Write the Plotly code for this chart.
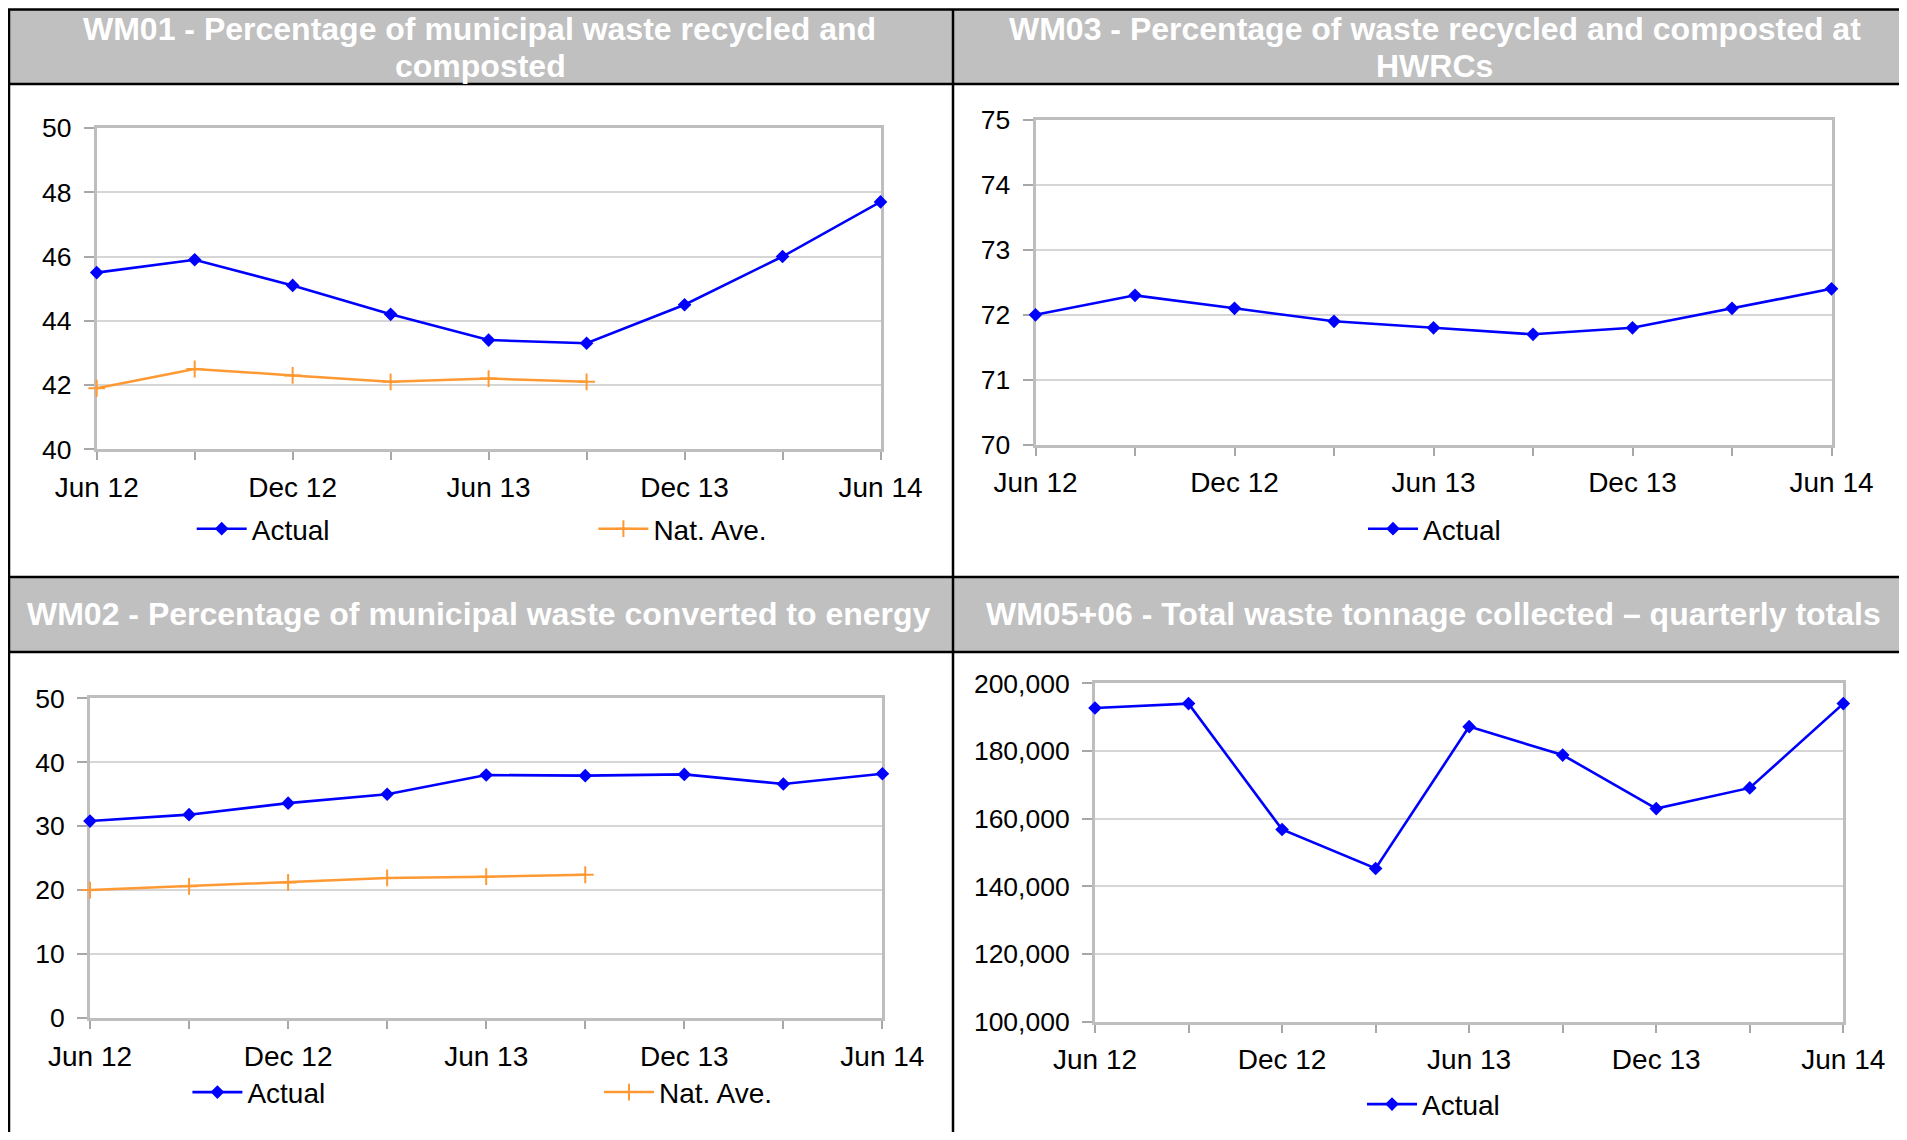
import plotly.graph_objects as go

# target page size; the page body adds an 8px margin, so the figure is shifted by OFF
PW, PH = 1907, 1140
OFF = 8
FW, FH = PW - OFF, PH - 2 * OFF
FONT = "Liberation Sans, Arial, sans-serif"

# ---------------- data ----------------
quarters = ["Jun 12", "Sep 12", "Dec 12", "Mar 13", "Jun 13", "Sep 13", "Dec 13", "Mar 14", "Jun 14"]
tick_labels = ["Jun 12", "", "Dec 12", "", "Jun 13", "", "Dec 13", "", "Jun 14"]

wm01_actual = [45.5, 45.9, 45.1, 44.2, 43.4, 43.3, 44.5, 46.0, 47.7]
wm01_nat_ave = [41.9, 42.5, 42.3, 42.1, 42.2, 42.1]

wm03_actual = [72.0, 72.3, 72.1, 71.9, 71.8, 71.7, 71.8, 72.1, 72.4]

wm02_actual = [30.8, 31.8, 33.6, 35.0, 38.0, 37.9, 38.1, 36.6, 38.2]
wm02_nat_ave = [20.0, 20.6, 21.2, 21.9, 22.1, 22.4]

wm0506_actual = [192700, 194000, 156800, 145300, 187200, 178800, 163000, 169100, 194000]

titles = {
    "wm01": ["WM01 - Percentage of municipal waste recycled and", "composted"],
    "wm03": ["WM03 - Percentage of waste recycled and composted at", "HWRCs"],
    "wm02": ["WM02 - Percentage of municipal waste converted to energy"],
    "wm0506": ["WM05+06 - Total waste tonnage collected \u2013 quarterly totals"],
}

BLUE = "#0000FF"
ORANGE = "#FF9933"


def px_x(x):
    return (x - OFF) / FW


def px_y(y):
    return 1 - (y - OFF) / FH


def xdom(l, r):
    return [px_x(l), px_x(r)]


def ydom(t, b):
    return [px_y(b), px_y(t)]


fig = go.Figure()


def actual_trace(y, ax, legend):
    return go.Scatter(
        x=quarters[: len(y)], y=y, name="Actual", mode="lines+markers",
        line=dict(color=BLUE, width=2.6),
        marker=dict(symbol="diamond", size=10.5, color=BLUE),
        xaxis="x" + ax, yaxis="y" + ax, legend=legend, cliponaxis=False,
    )


def nat_trace(y, ax, legend):
    return go.Scatter(
        x=quarters[: len(y)], y=y, name="Nat. Ave.", mode="lines+markers",
        line=dict(color=ORANGE, width=2.5),
        marker=dict(symbol="cross-thin", size=12, color=ORANGE, line=dict(color=ORANGE, width=2)),
        xaxis="x" + ax, yaxis="y" + ax, legend=legend, cliponaxis=False,
    )


fig.add_trace(actual_trace(wm01_actual, "", "legend"))
fig.add_trace(nat_trace(wm01_nat_ave, "", "legend"))
fig.add_trace(actual_trace(wm03_actual, "2", "legend2"))
fig.add_trace(actual_trace(wm02_actual, "3", "legend3"))
fig.add_trace(nat_trace(wm02_nat_ave, "3", "legend3"))
fig.add_trace(actual_trace(wm0506_actual, "4", "legend4"))

LINEC = "#BEBEBE"
GRIDC = "#D6D6D6"
TICKC = "#A8A8A8"


def xaxis(dom, anchor):
    return dict(
        domain=dom, anchor=anchor, type="category", range=[0, 8],
        tickmode="array", tickvals=quarters, ticktext=tick_labels,
        ticks="outside", ticklen=8, tickwidth=1.5, tickcolor=TICKC,
        showline=True, linecolor=LINEC, linewidth=3, mirror=True,
        showgrid=False, zeroline=False, fixedrange=True, automargin=False,
        layer="below traces",
        tickfont=dict(family=FONT, size=28, color="black"),
        ticklabelstandoff=3,
    )


def yaxis(dom, anchor, rng, dtick, fmt=None):
    d = dict(
        domain=dom, anchor=anchor, range=rng, dtick=dtick, tick0=rng[0],
        ticks="outside", ticklen=10, tickwidth=2, tickcolor=TICKC,
        showline=True, linecolor=LINEC, linewidth=3, mirror=True,
        showgrid=True, gridcolor=GRIDC, gridwidth=2, zeroline=False, fixedrange=True,
        automargin=False, layer="below traces",
        tickfont=dict(family=FONT, size=26.5, color="black"),
        ticklabelstandoff=7,
    )
    if fmt:
        d["tickformat"] = fmt
    return d


# plot-area pixel boxes on the page (left, right, top, bottom)
P1 = (96.7, 880.5, 128, 449.3)
P2 = (1035.5, 1831.5, 120, 444.7)
P3 = (90, 882.4, 698.3, 1018)
P4 = (1095, 1843.3, 683.3, 1021.8)

fig.update_layout(
    xaxis=xaxis(xdom(P1[0], P1[1]), "y"),
    yaxis=yaxis(ydom(P1[2], P1[3]), "x", [40, 50], 2),
    xaxis2=xaxis(xdom(P2[0], P2[1]), "y2"),
    yaxis2=yaxis(ydom(P2[2], P2[3]), "x2", [70, 75], 1),
    xaxis3=xaxis(xdom(P3[0], P3[1]), "y3"),
    yaxis3=yaxis(ydom(P3[2], P3[3]), "x3", [0, 50], 10),
    xaxis4=xaxis(xdom(P4[0], P4[1]), "y4"),
    yaxis4=yaxis(ydom(P4[2], P4[3]), "x4", [100000, 200000], 20000, ",d"),
)

ITEMW = 50
CENTER = (ITEMW + 10) / 2
TEXTGAP = ITEMW + 10


def legend(cx_first, cy, gap=None):
    d = dict(
        orientation="h", x=px_x(cx_first - CENTER), y=px_y(cy), xanchor="left", yanchor="middle",
        font=dict(family=FONT, size=28, color="black"), bgcolor="rgba(0,0,0,0)",
        borderwidth=0, itemclick=False, itemdoubleclick=False, itemwidth=ITEMW,
    )
    if gap:
        d["entrywidth"] = gap - TEXTGAP - 5
        d["entrywidthmode"] = "pixels"
    return d


fig.update_layout(
    legend=legend(221.7, 529, 401.7),
    legend2=legend(1393, 529),
    legend3=legend(217.4, 1092.4, 411.6),
    legend4=legend(1392, 1104.4),
)

# ---------------- frame / headers ----------------
shapes = []
for (t, b) in [(9, 84), (577, 652)]:
    shapes.append(dict(type="rect", xref="paper", yref="paper",
                       x0=px_x(8), x1=px_x(PW), y0=px_y(b), y1=px_y(t),
                       fillcolor="#C0C0C0", line=dict(width=0), layer="below"))
for yy in [9.5, 84, 577, 652]:
    shapes.append(dict(type="line", xref="paper", yref="paper",
                       x0=px_x(8), x1=px_x(PW), y0=px_y(yy), y1=px_y(yy),
                       line=dict(color="black", width=2.5)))
for xx in [9, 953]:
    shapes.append(dict(type="line", xref="paper", yref="paper",
                       x0=px_x(xx), x1=px_x(xx), y0=px_y(9), y1=px_y(PH - OFF),
                       line=dict(color="black", width=2.5)))
fig.update_layout(shapes=shapes)

annotations = []


def title(text, cx, cy):
    annotations.append(dict(
        text="<b>" + text + "</b>", xref="paper", yref="paper", x=px_x(cx), y=px_y(cy),
        xanchor="center", yanchor="middle", showarrow=False,
        font=dict(family=FONT, size=32, color="white"),
    ))


title(titles["wm01"][0], 479.5, 29)
title(titles["wm01"][1], 480, 66)
title(titles["wm03"][0], 1434.5, 29)
title(titles["wm03"][1], 1434, 66)
title(titles["wm02"][0], 479, 614)
title(titles["wm0506"][0], 1433, 614)
fig.update_layout(annotations=annotations)

fig.update_layout(
    width=FW, height=FH, margin=dict(l=0, r=0, t=0, b=0, pad=0, autoexpand=False),
    paper_bgcolor="white", plot_bgcolor="white",
    font=dict(family=FONT, color="black"),
)

fig.write_html("out.html", config={"displayModeBar": False})
